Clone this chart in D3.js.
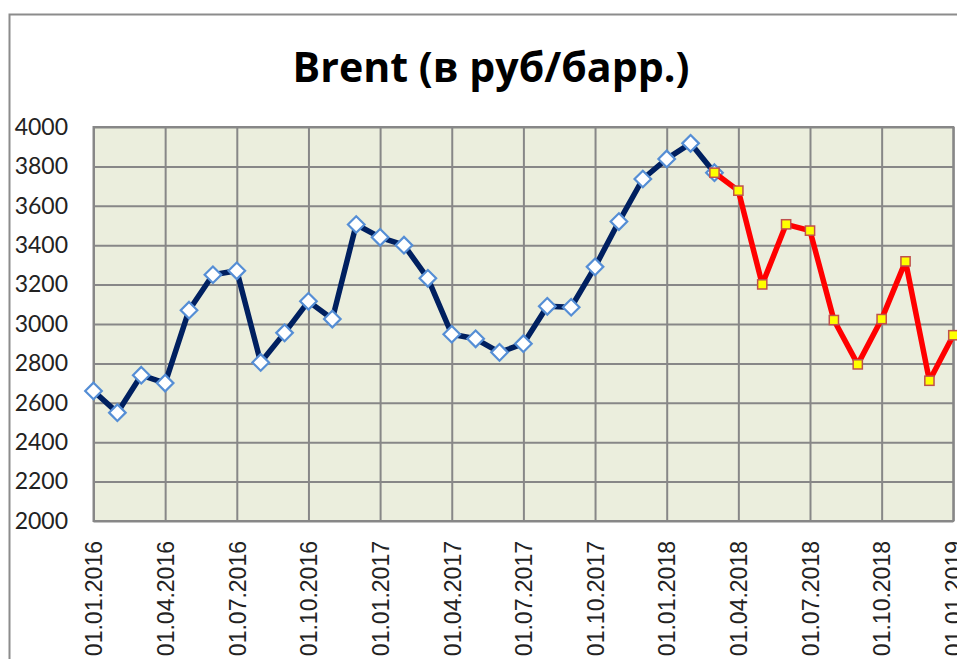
<!DOCTYPE html>
<html>
<head>
<meta charset="utf-8">
<script src="https://cdn.jsdelivr.net/npm/d3@7"></script>
<style>
  html, body { margin: 0; padding: 0; background: #fff; overflow: hidden; }
  svg { display: block; }
</style>
</head>
<body>
<svg id="chart" width="957" height="659"></svg>
<script>
// ---- data ----
const months = [
  "01.01.2016","01.02.2016","01.03.2016","01.04.2016","01.05.2016","01.06.2016",
  "01.07.2016","01.08.2016","01.09.2016","01.10.2016","01.11.2016","01.12.2016",
  "01.01.2017","01.02.2017","01.03.2017","01.04.2017","01.05.2017","01.06.2017",
  "01.07.2017","01.08.2017","01.09.2017","01.10.2017","01.11.2017","01.12.2017",
  "01.01.2018","01.02.2018","01.03.2018","01.04.2018","01.05.2018","01.06.2018",
  "01.07.2018","01.08.2018","01.09.2018","01.10.2018","01.11.2018","01.12.2018",
  "01.01.2019"
];
// actual values: months[0] .. months[26]
const actualValues = [2660,2550,2740,2700,3070,3250,3270,2805,2955,3115,3025,3505,
                      3440,3400,3232,2948,2925,2856,2900,3090,3085,3290,3520,3736,
                      3838,3917,3768];
// forecast values: months[26] .. months[36]
const forecastStart = 26;
const forecastValues = [3768,3677,3201,3506,3474,3020,2795,3025,3318,2712,2943];
const yTicks = [2000,2200,2400,2600,2800,3000,3200,3400,3600,3800,4000];
const xTickLabels = months.filter((d, i) => i % 3 === 0);
const title = "Brent (в руб/барр.)";

// ---- layout ----
const svg = d3.select("#chart");
const plot = { left: 93.5, right: 953.3, top: 127, bottom: 521 };

const x = d3.scalePoint().domain(months).range([plot.left, plot.right]);
const y = d3.scaleLinear().domain([2000, 4000]).range([plot.bottom, plot.top]);

// chart area border
svg.append("rect")
  .attr("x", 9.5).attr("y", 14.5)
  .attr("width", 1200).attr("height", 1000)
  .attr("fill", "#fff").attr("stroke", "#8c8c8c").attr("stroke-width", 2);

// title (fit to reference width)
const titleEl = svg.append("text")
  .attr("x", 491).attr("y", 82)
  .attr("text-anchor", "middle")
  .attr("font-family", "'Open Sans', Lato, sans-serif")
  .attr("font-weight", 700)
  .attr("font-size", 40)
  .attr("fill", "#000")
  .text(title);
const tw = titleEl.node().getComputedTextLength();
titleEl.attr("font-size", 40 * 397 / tw);

// plot background
svg.append("rect")
  .attr("x", plot.left).attr("y", plot.top)
  .attr("width", plot.right - plot.left).attr("height", plot.bottom - plot.top)
  .attr("fill", "#ebeedd");

// horizontal gridlines
const gridColor = "#878787";
svg.append("g")
  .attr("transform", `translate(${plot.left},0)`)
  .call(d3.axisLeft(y).tickValues(yTicks).tickSize(-(plot.right - plot.left)).tickFormat(""))
  .call(g => g.select(".domain").remove())
  .call(g => g.selectAll("line").attr("stroke", gridColor).attr("stroke-width", 2));

// vertical gridlines (quarterly)
svg.append("g")
  .attr("transform", `translate(0,${plot.bottom})`)
  .call(d3.axisBottom(x).tickValues(xTickLabels).tickSize(-(plot.bottom - plot.top)).tickFormat(""))
  .call(g => g.select(".domain").remove())
  .call(g => g.selectAll("line").attr("stroke", gridColor).attr("stroke-width", 2));

// plot border
svg.append("rect")
  .attr("x", plot.left).attr("y", plot.top)
  .attr("width", plot.right - plot.left).attr("height", plot.bottom - plot.top)
  .attr("fill", "none").attr("stroke", gridColor).attr("stroke-width", 2);

// y-axis labels
svg.append("g")
  .attr("transform", `translate(68,0)`)
  .call(d3.axisLeft(y).tickValues(yTicks).tickSize(0).tickPadding(0).tickFormat(d3.format("d")))
  .call(g => g.select(".domain").remove())
  .call(g => g.selectAll("text")
    .attr("font-family", "Lato, 'Open Sans', sans-serif")
    .attr("font-size", 23)
    .attr("fill", "#222")
    .attr("text-anchor", "end"));

// x-axis labels (rotated)
svg.append("g")
  .attr("transform", `translate(0,${plot.bottom})`)
  .call(d3.axisBottom(x).tickValues(xTickLabels).tickSize(0).tickFormat(d => d))
  .call(g => g.select(".domain").remove())
  .call(g => g.selectAll("text")
    .attr("font-family", "'Liberation Sans', Arial, sans-serif")
    .attr("font-size", 23)
    .attr("fill", "#222")
    .attr("text-anchor", "end")
    .attr("transform", "rotate(-90)")
    .attr("x", -20)
    .attr("y", 0)
    .attr("dy", "0.36em"));

// series data
const actual = actualValues.map((v, i) => ({ m: months[i], v }));
const forecast = forecastValues.map((v, i) => ({ m: months[forecastStart + i], v }));

const line = d3.line().x(d => x(d.m)).y(d => y(d.v));

// actual line
svg.append("path")
  .datum(actual)
  .attr("d", line)
  .attr("fill", "none")
  .attr("stroke", "#002060")
  .attr("stroke-width", 5.5)
  .attr("stroke-linejoin", "round");

// diamonds
svg.append("g").selectAll("path")
  .data(actual)
  .join("path")
  .attr("transform", d => `translate(${x(d.m)},${y(d.v)})`)
  .attr("d", "M0,-8.3L8.3,0L0,8.3L-8.3,0Z")
  .attr("fill", "#fff")
  .attr("stroke", "#558ed5")
  .attr("stroke-width", 2.2);

// forecast line
svg.append("path")
  .datum(forecast)
  .attr("d", line)
  .attr("fill", "none")
  .attr("stroke", "#ff0000")
  .attr("stroke-width", 5.5)
  .attr("stroke-linejoin", "round");

// squares
svg.append("g").selectAll("rect")
  .data(forecast)
  .join("rect")
  .attr("x", d => x(d.m) - 4.6)
  .attr("y", d => y(d.v) - 4.6)
  .attr("width", 9.2).attr("height", 9.2)
  .attr("fill", "#ffff00")
  .attr("stroke", "#c0504d")
  .attr("stroke-width", 1.5);
</script>
</body>
</html>
